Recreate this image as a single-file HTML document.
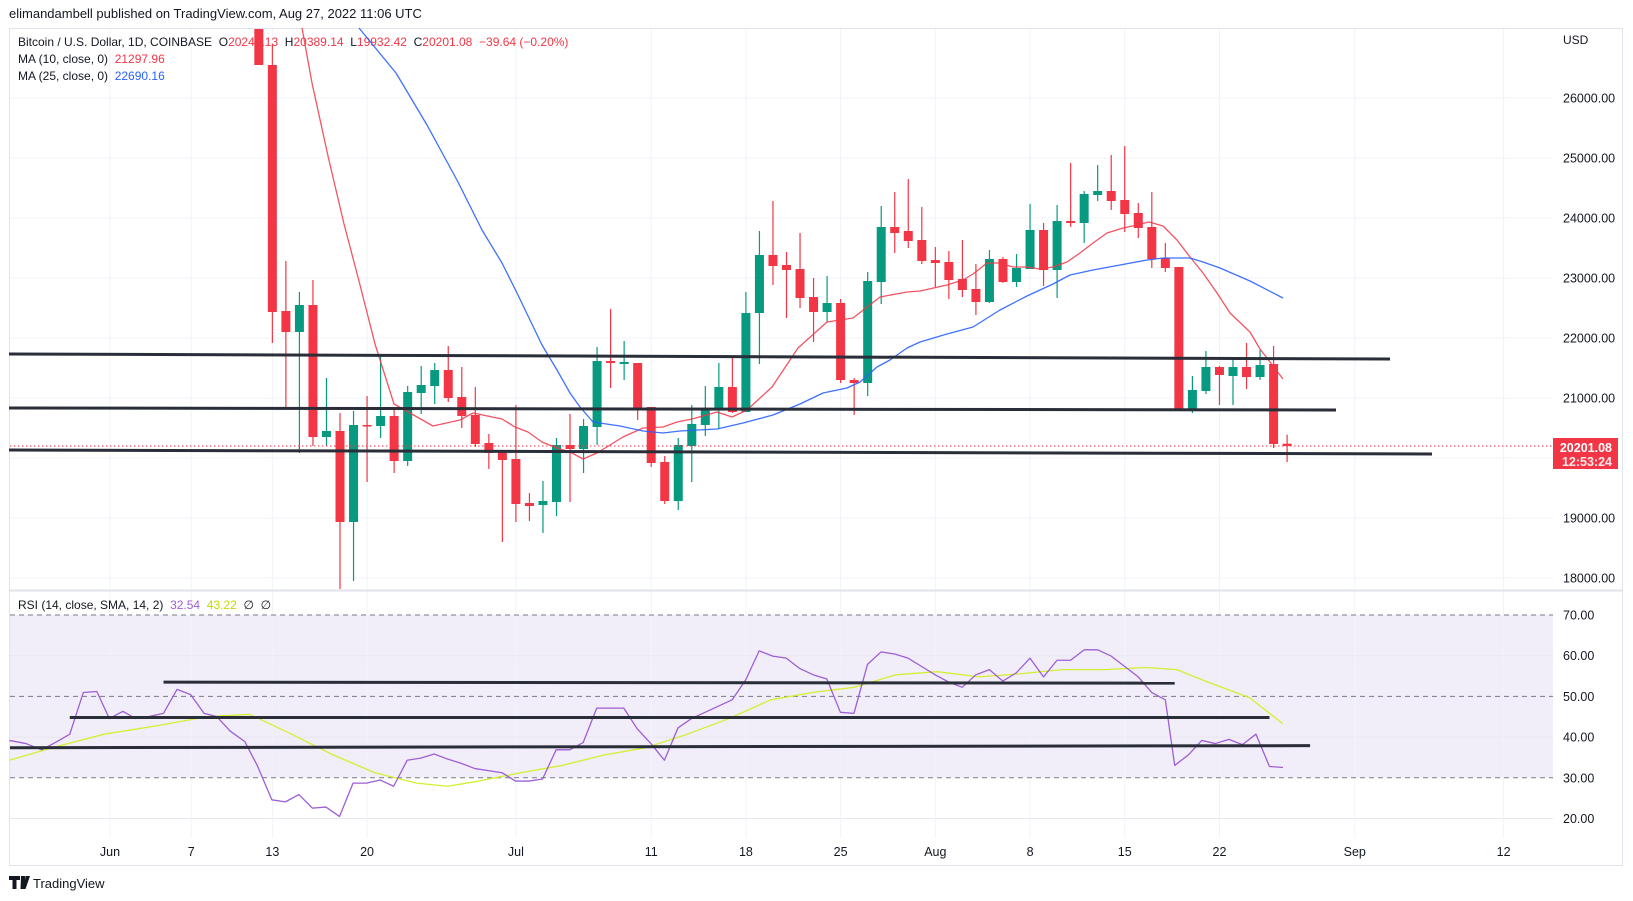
<!DOCTYPE html>
<html><head><meta charset="utf-8"><style>
html,body{margin:0;padding:0;background:#fff;}
svg{display:block;font-family:"Liberation Sans",sans-serif;}
</style></head><body>
<svg id="s" width="1633" height="901" viewBox="0 0 1633 901" xmlns="http://www.w3.org/2000/svg"></svg>
<script>
const S=document.getElementById('s');let h='';
const k=1.0414;
const X=d=>110+13.53*d;
const PY=p=>398-(p-21000)*0.06;
const RY=r=>615+(70-r)*4.07;
const R='#f23645',G='#089981';
h+='<rect x="9.5" y="28.5" width="1613" height="837" fill="#fff" stroke="#e0e3eb"/>';
h+=`<rect x="10" y="${RY(70)}" width="1543" height="${RY(30)-RY(70)}" fill="#7e57c2" fill-opacity="0.1"/>`;
for(let p=18000;p<=26000;p+=1000)h+=`<line x1="10" x2="1553" y1="${PY(p)}" y2="${PY(p)}" stroke="#f0f3fa"/>`;
for(const r of [60,40,20])h+=`<line x1="10" x2="1553" y1="${RY(r)}" y2="${RY(r)}" stroke="#e9e6f0"/>`;
const ticks=[[0,'Jun'],[6,'7'],[12,'13'],[19,'20'],[30,'Jul'],[40,'11'],[47,'18'],[54,'25'],[61,'Aug'],[68,'8'],[75,'15'],[82,'22'],[92,'Sep'],[103,'12']];
for(const [d,t] of ticks){const x=X(d);h+=`<line x1="${x}" x2="${x}" y1="29" y2="838" stroke="#f0f3fa"/>`;
h+=`<text x="${x}" y="856" font-size="12.5" fill="#131722" text-anchor="middle">${t}</text>`;}
h+='<line x1="10" x2="1622" y1="590.5" y2="590.5" stroke="#e0e3eb" stroke-width="2"/>';
for(const r of [70,50,30])h+=`<line x1="10" x2="1553" y1="${RY(r)}" y2="${RY(r)}" stroke="#787b86" stroke-dasharray="5,4"/>`;
h+='<text x="9" y="18" font-size="13" fill="#131722">elimandambell published on TradingView.com, Aug 27, 2022 11:06 UTC</text>';
h+='<text x="18" y="46" font-size="12" fill="#131722">Bitcoin / U.S. Dollar, 1D, COINBASE&#160;&#160;O<tspan fill="#f23645">20240.13</tspan>&#160;&#160;H<tspan fill="#f23645">20389.14</tspan>&#160;&#160;L<tspan fill="#f23645">19932.42</tspan>&#160;&#160;C<tspan fill="#f23645">20201.08&#160;&#160;−39.64 (−0.20%)</tspan></text>';
h+='<text x="18" y="63" font-size="12" fill="#131722">MA (10, close, 0)&#160;&#160;<tspan fill="#f23645">21297.96</tspan></text>';
h+='<text x="18" y="80" font-size="12" fill="#131722">MA (25, close, 0)&#160;&#160;<tspan fill="#2962ff">22690.16</tspan></text>';
h+='<text x="18" y="609" font-size="12" fill="#131722">RSI (14, close, SMA, 14, 2)&#160;&#160;<tspan fill="#9c5fd4">32.54</tspan>&#160;&#160;<tspan fill="#c5d800">43.22</tspan>&#160;&#160;∅&#160;&#160;∅</text>';
const C=[[11,28,65,28,65,R],[12,65,312,44,343,R],[13,311,332,261,409,R],[14,305,332,292,453,G],[15,305,437,280,446,R],[16,431,437,378,446,G],[17,431,522,413,589,R],[18,425,522,411,581,G],[19,425,426,396,482,R],[20,416,426,356,438,G],[21,416,461,407,473,R],[22,392,461,386,466,G],[23,385,393,366,414,G],[24,370,386,363,404,G],[25,370,398,346,402,R],[26,397,416,367,428,R],[27,415,444,387,447,R],[28,443,453,434,469,R],[29,452,460,450,542,R],[30,459,504,405,522,R],[31,503,506,493,521,R],[32,501,505,481,533,G],[33,445,502,438,516,G],[34,445,449,414,502,R],[35,426,449,419,473,G],[36,361,427,347,445,G],[37,361,363,309,388,R],[38,362,364,341,380,G],[39,363,408,363,420,R],[40,407,463,407,467,R],[41,462,501,456,504,R],[42,445,501,438,510,G],[43,424,446,405,482,G],[44,409,425,386,436,G],[45,387,410,363,429,G],[46,387,412,358,413,R],[47,313,412,292,412,G],[48,255,313,231,364,G],[49,255,266,201,285,R],[50,265,270,252,318,R],[51,269,298,233,308,R],[52,297,312,278,342,R],[53,303,312,276,322,G],[54,303,380,299,383,R],[55,380,383,378,415,R],[56,281,383,272,396,G],[57,227,282,206,304,G],[58,227,233,192,253,R],[59,231,241,179,248,R],[60,240,261,207,264,R],[61,260,263,247,287,R],[62,262,280,251,299,R],[63,279,290,240,297,R],[64,289,302,264,315,R],[65,259,302,250,303,G],[66,259,282,257,283,R],[67,268,282,254,287,G],[68,230,269,204,269,G],[69,230,270,223,286,R],[70,221,270,205,298,G],[71,221,223,163,227,R],[72,194,223,191,243,G],[73,191,195,165,201,G],[74,191,201,155,210,R],[75,200,214,146,232,R],[76,213,228,203,238,R],[77,227,259,192,268,R],[78,258,268,243,272,R],[79,267,410,267,411,R],[80,390,409,376,413,G],[81,367,391,351,394,G],[82,367,375,366,405,R],[83,367,376,358,405,G],[84,367,377,343,389,R],[85,365,377,350,380,G],[86,364,444,346,448,R],[87,443.7,446,434.7,462,R]];
for(const [d,bt,bb,wt,wb,c] of C){const x=X(d);
h+=`<line x1="${x}" x2="${x}" y1="${Math.max(29,wt)}" y2="${Math.min(589,wb)}" stroke="${c}" stroke-width="1.2"/>`;
h+=`<rect x="${x-4.5}" y="${Math.max(29,bt)}" width="9" height="${Math.max(1.5,bb-Math.max(29,bt))}" fill="${c}"/>`;}
const pl=(pts,col,w,op)=>`<polyline points="${pts.map(p=>p.join(',')).join(' ')}" fill="none" stroke="${col}" stroke-width="${w}" stroke-opacity="${op}" stroke-linejoin="round"/>`;
const ma10=[[302,28],[312,83],[328,156],[344,224],[359,281],[375,344],[394,404],[433,426],[460,420],[473,413],[502,419],[515,427],[528,432],[542,442],[557,448],[570,452],[583,459],[597,453],[623,437],[643,428],[663,427],[677,422],[692,419],[717,412],[732,417],[747,410],[772,387],[798,348],[827,322],[853,318],[880,297],[907,292],[920,291],[947,285],[963,280],[973,274],[987,263],[1000,263],[1013,267],[1027,267],[1040,269],[1053,267],[1067,262],[1080,253],[1093,243],[1107,233],[1123,228],[1137,225],[1149,222],[1163,226],[1177,240],[1190,257],[1203,273],[1217,293],[1230,313],[1250,332],[1260,349],[1283,379]];
const ma25=[[359,28],[396,73],[427,125],[458,182],[482,230],[502,263],[517,293],[542,345],[557,370],[570,393],[580,407],[593,422],[620,426],[643,431],[663,433],[680,431],[717,429],[743,423],[773,415],[800,404],[823,393],[847,388],[860,382],[877,367],[890,360],[907,348],[920,342],[947,334],[973,327],[1000,310],[1027,296],[1053,284],[1070,275],[1093,270],[1120,265],[1147,260],[1163,258],[1190,258],[1203,262],[1220,268],[1250,281],[1283,298]];
h+=pl(ma10,'#f23645',1.3,0.85);h+=pl(ma25,'#2962ff',1.3,0.9);
const bl=(a,b,c,d)=>`<line x1="${a}" y1="${b}" x2="${c}" y2="${d}" stroke="#2a2e39" stroke-width="3"/>`;
h+=bl(9,354,1390,359)+bl(9,408,1336,410)+bl(9,450,1432,454);
h+='<line x1="10" x2="1553" y1="446" y2="446" stroke="#f23645" stroke-dasharray="1.5,2.5"/>';
const rsiP=[[9,711],[25,714],[40,720],[55,712],[67,705],[80,665],[93,664],[105,690],[118,683],[130,690],[143,688],[157,685],[170,662],[183,667],[196,685],[208,688],[221,702],[235,712],[247,735],[261,768],[274,770],[287,763],[300,776],[313,775],[326,784],[339,752],[352,752],[365,749],[378,755],[391,730],[404,728],[417,724],[430,729],[443,733],[456,738],[469,740],[482,742],[495,750],[508,750],[521,748],[534,720],[547,720],[560,713],[573,680],[586,680],[599,680],[612,700],[625,714],[638,730],[651,699],[664,690],[677,684],[690,678],[703,672],[716,653],[729,625],[742,630],[755,632],[768,642],[781,648],[794,652],[807,684],[820,685],[833,638],[846,626],[859,628],[872,632],[885,640],[898,648],[911,655],[924,660],[937,648],[950,643],[963,654],[976,646],[989,632],[1002,650],[1015,634],[1028,634],[1041,624],[1054,624],[1067,630],[1080,640],[1093,650],[1106,665],[1119,672],[1128,735],[1141,725],[1154,711],[1167,714],[1180,710],[1193,715],[1206,705],[1219,736],[1232,737]].map(p=>[p[0]*k,p[1]*k]);
const smaP=[[9,730],[50,718],[100,705],[150,697],[200,688],[240,686],[280,705],[320,725],[360,742],[400,752],[430,755],[460,750],[500,742],[540,735],[580,725],[620,718],[660,705],[700,690],[740,672],[780,665],[820,660],[860,648],[900,645],[940,650],[980,647],[1020,643],[1060,643],[1100,641],[1130,643],[1160,655],[1200,670],[1232,695]].map(p=>[p[0]*k,p[1]*k]);
h+=pl(smaP,'#d4ef2e',1.3,1);h+=pl(rsiP,'#9c5fd4',1.3,1);
h+=bl(157*k,655*k,1128*k,656*k)+bl(67*k,689*k,1219*k,689*k)+bl(10,718*k,1258*k,716*k);
h+='<text x="1563" y="44" font-size="12" fill="#131722">USD</text>';
for(let p=18000;p<=26000;p+=1000){if(p==20000)continue;h+=`<text x="1563" y="${PY(p)+4.5}" font-size="12.5" fill="#131722">${p}.00</text>`;}
for(const r of [70,60,50,40,30,20])h+=`<text x="1563" y="${RY(r)+4.5}" font-size="12.5" fill="#131722">${r}.00</text>`;
h+='<rect x="1553" y="438" width="65" height="31" fill="#f23645"/>';
h+='<text x="1612" y="452" font-size="12.5" font-weight="bold" fill="#fff" text-anchor="end">20201.08</text>';
h+='<text x="1612" y="466" font-size="12.5" font-weight="bold" fill="#fff" text-anchor="end" fill-opacity="0.9">12:53:24</text>';
h+='<path d="M9 876h11v4h-3.5v9h-4v-9H9z M21 876h4.5l-2 13h-3z M26 876h4l-4.5 13h-3z" fill="#131722"/>';
h+='<text x="33" y="888" font-size="13" fill="#131722">TradingView</text>';
S.innerHTML=h;
</script>
</body></html>
